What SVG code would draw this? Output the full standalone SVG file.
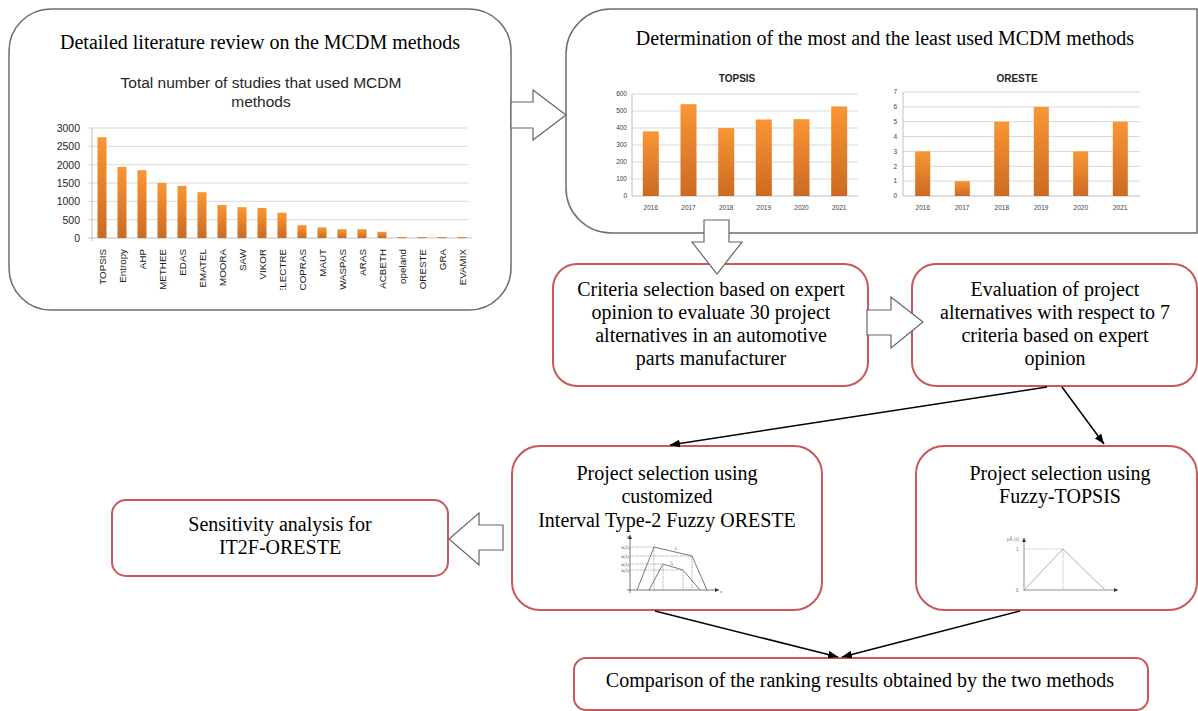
<svg xmlns="http://www.w3.org/2000/svg" width="1198" height="711" viewBox="0 0 1198 711">
<style>
.gbox{fill:#fff;stroke:#6d6d6d;stroke-width:1.5}
.rbox{fill:#fff;stroke:#c9585a;stroke-width:2}
.t{font-family:"Liberation Serif","Times New Roman",serif;font-size:20px;fill:#000;text-anchor:middle}
.ct{font-family:"Liberation Sans",Arial,sans-serif;fill:#262626}
.ax{font-family:"Liberation Sans",Arial,sans-serif;font-size:10.5px;fill:#262626;text-anchor:end}
.xl{font-family:"Liberation Sans",Arial,sans-serif;font-size:9.8px;fill:#1a1a1a;text-anchor:end}
.sax{font-family:"Liberation Sans",Arial,sans-serif;font-size:6.5px;fill:#404040;text-anchor:end}
.sxl{font-family:"Liberation Sans",Arial,sans-serif;font-size:6.5px;fill:#404040;text-anchor:middle}
.grid{stroke:#d9d9d9;stroke-width:1}
.axis{stroke:#bfbfbf;stroke-width:1}
.bar{fill:url(#og)}
.garrow{fill:#fff;stroke:#666;stroke-width:1.2;stroke-linejoin:miter}
.conn{stroke:#000;stroke-width:1.5;fill:none;marker-end:url(#ah)}
.fig{stroke:#555;stroke-width:0.8;fill:none}
.dot{stroke:#777;stroke-width:0.6;stroke-dasharray:1.5 1;fill:none}
.tiny{font-family:"Liberation Serif","Times New Roman",serif;font-size:4px;fill:#333}
</style>
<defs>
<linearGradient id="og" x1="0" y1="0" x2="0" y2="1">
<stop offset="0" stop-color="#f99634"/>
<stop offset="1" stop-color="#cc6a22"/>
</linearGradient>
<marker id="ah" viewBox="0 0 10 8" refX="10" refY="4" markerWidth="10" markerHeight="8" markerUnits="userSpaceOnUse" orient="auto">
<path d="M0,0 L10,4 L0,8 z" fill="#000"/>
</marker>
<marker id="sa" viewBox="0 0 6 6" refX="6" refY="3" markerWidth="4" markerHeight="4" markerUnits="userSpaceOnUse" orient="auto">
<path d="M0,0 L6,3 L0,6 z" fill="#333"/>
</marker>
<clipPath id="lblclip"><rect x="80" y="240" width="400" height="50"/></clipPath>
</defs>
<rect width="1198" height="711" fill="#fff"/>

<g id="node-literature">
<rect class="gbox" x="9" y="9" width="502" height="301" rx="42" ry="42"/>
<text class="t" x="260" y="49">Detailed literature review on the MCDM methods</text>
<g id="chart-total">
<text class="ct" x="261" y="88" font-size="15.5" text-anchor="middle">Total number of studies that used MCDM</text>
<text class="ct" x="261" y="107" font-size="15.5" text-anchor="middle">methods</text>
<line class="grid" x1="88" y1="128" x2="468" y2="128"/>
<line class="grid" x1="88" y1="146.3" x2="468" y2="146.3"/>
<line class="grid" x1="88" y1="164.7" x2="468" y2="164.7"/>
<line class="grid" x1="88" y1="183" x2="468" y2="183"/>
<line class="grid" x1="88" y1="201.3" x2="468" y2="201.3"/>
<line class="grid" x1="88" y1="219.7" x2="468" y2="219.7"/>
<line class="axis" x1="88" y1="238" x2="472" y2="238"/>
<line class="axis" x1="92" y1="128" x2="92" y2="241"/>
<text class="ax" x="80" y="132">3000</text>
<text class="ax" x="80" y="150">2500</text>
<text class="ax" x="80" y="168.5">2000</text>
<text class="ax" x="80" y="187">1500</text>
<text class="ax" x="80" y="205">1000</text>
<text class="ax" x="80" y="223.5">500</text>
<text class="ax" x="80" y="242">0</text>
<rect class="bar" x="97.5" y="137.2" width="9" height="100.8"/>
<rect class="bar" x="117.5" y="166.9" width="9" height="71.1"/>
<rect class="bar" x="137.5" y="170.2" width="9" height="67.8"/>
<rect class="bar" x="157.5" y="183" width="9" height="55"/>
<rect class="bar" x="177.5" y="185.9" width="9" height="52.1"/>
<rect class="bar" x="197.5" y="192.2" width="9" height="45.8"/>
<rect class="bar" x="217.5" y="205" width="9" height="33"/>
<rect class="bar" x="237.5" y="207.2" width="9" height="30.8"/>
<rect class="bar" x="257.5" y="207.9" width="9" height="30.1"/>
<rect class="bar" x="277.5" y="212.7" width="9" height="25.3"/>
<rect class="bar" x="297.5" y="225.2" width="9" height="12.8"/>
<rect class="bar" x="317.5" y="227.4" width="9" height="10.6"/>
<rect class="bar" x="337.5" y="229.2" width="9" height="8.8"/>
<rect class="bar" x="357.5" y="229.2" width="9" height="8.8"/>
<rect class="bar" x="377.5" y="231.8" width="9" height="6.2"/>
<rect class="bar" x="397.5" y="237" width="9" height="1"/>
<rect class="bar" x="417.5" y="237" width="9" height="1"/>
<rect class="bar" x="437.5" y="237" width="9" height="1"/>
<rect class="bar" x="457.5" y="237" width="9" height="1"/>
<g clip-path="url(#lblclip)">
<text class="xl" x="105.5" y="249" transform="rotate(-90 105.5 249)">TOPSIS</text>
<text class="xl" x="125.5" y="249" transform="rotate(-90 125.5 249)">Entropy</text>
<text class="xl" x="145.5" y="249" transform="rotate(-90 145.5 249)">AHP</text>
<text class="xl" x="165.5" y="249" transform="rotate(-90 165.5 249)">METHEE</text>
<text class="xl" x="185.5" y="249" transform="rotate(-90 185.5 249)">EDAS</text>
<text class="xl" x="205.5" y="249" transform="rotate(-90 205.5 249)">EMATEL</text>
<text class="xl" x="225.5" y="249" transform="rotate(-90 225.5 249)">MOORA</text>
<text class="xl" x="245.5" y="249" transform="rotate(-90 245.5 249)">SAW</text>
<text class="xl" x="265.5" y="249" transform="rotate(-90 265.5 249)">VIKOR</text>
<text class="xl" x="285.5" y="249" transform="rotate(-90 285.5 249)">ELECTRE</text>
<text class="xl" x="305.5" y="249" transform="rotate(-90 305.5 249)">COPRAS</text>
<text class="xl" x="325.5" y="249" transform="rotate(-90 325.5 249)">MAUT</text>
<text class="xl" x="345.5" y="249" transform="rotate(-90 345.5 249)">WASPAS</text>
<text class="xl" x="365.5" y="249" transform="rotate(-90 365.5 249)">ARAS</text>
<text class="xl" x="385.5" y="249" transform="rotate(-90 385.5 249)">ACBETH</text>
<text class="xl" x="405.5" y="249" transform="rotate(-90 405.5 249)">opeland</text>
<text class="xl" x="425.5" y="249" transform="rotate(-90 425.5 249)">ORESTE</text>
<text class="xl" x="445.5" y="249" transform="rotate(-90 445.5 249)">GRA</text>
<text class="xl" x="465.5" y="249" transform="rotate(-90 465.5 249)">EVAMIX</text>
</g>
</g>
</g>

<g id="node-determination">
<path class="gbox" d="M611,9 H1197 V233 H611 A45,45 0 0 1 566,188 V54 A45,45 0 0 1 611,9 Z"/>
<text class="t" x="885" y="45">Determination of the most and the least used MCDM methods</text>
<g id="chart-topsis">
<text class="ct" x="737" y="82" font-size="10" font-weight="bold" text-anchor="middle">TOPSIS</text>
<line class="grid" x1="632" y1="94" x2="858" y2="94"/>
<line class="grid" x1="632" y1="111" x2="858" y2="111"/>
<line class="grid" x1="632" y1="128" x2="858" y2="128"/>
<line class="grid" x1="632" y1="145" x2="858" y2="145"/>
<line class="grid" x1="632" y1="162" x2="858" y2="162"/>
<line class="grid" x1="632" y1="179" x2="858" y2="179"/>
<line class="axis" x1="632" y1="196" x2="858" y2="196"/>
<line class="axis" x1="632" y1="94" x2="632" y2="196"/>
<text class="sax" x="627" y="96">600</text>
<text class="sax" x="627" y="113">500</text>
<text class="sax" x="627" y="130">400</text>
<text class="sax" x="627" y="147">300</text>
<text class="sax" x="627" y="164">200</text>
<text class="sax" x="627" y="181">100</text>
<text class="sax" x="627" y="198">0</text>
<rect class="bar" x="642.8" y="131.4" width="16" height="64.6"/>
<rect class="bar" x="680.5" y="104.2" width="16" height="91.8"/>
<rect class="bar" x="718.2" y="128" width="16" height="68"/>
<rect class="bar" x="755.8" y="119.5" width="16" height="76.5"/>
<rect class="bar" x="793.5" y="119.2" width="16" height="76.8"/>
<rect class="bar" x="831.2" y="106.4" width="16" height="89.6"/>
<text class="sxl" x="650.8" y="210">2016</text>
<text class="sxl" x="688.5" y="210">2017</text>
<text class="sxl" x="726.2" y="210">2018</text>
<text class="sxl" x="763.8" y="210">2019</text>
<text class="sxl" x="801.5" y="210">2020</text>
<text class="sxl" x="839.2" y="210">2021</text>
</g>
<g id="chart-oreste">
<text class="ct" x="1017" y="82" font-size="10" font-weight="bold" text-anchor="middle">ORESTE</text>
<line class="grid" x1="903" y1="92" x2="1140" y2="92"/>
<line class="grid" x1="903" y1="106.9" x2="1140" y2="106.9"/>
<line class="grid" x1="903" y1="121.7" x2="1140" y2="121.7"/>
<line class="grid" x1="903" y1="136.6" x2="1140" y2="136.6"/>
<line class="grid" x1="903" y1="151.4" x2="1140" y2="151.4"/>
<line class="grid" x1="903" y1="166.3" x2="1140" y2="166.3"/>
<line class="grid" x1="903" y1="181.1" x2="1140" y2="181.1"/>
<line class="axis" x1="903" y1="196" x2="1140" y2="196"/>
<line class="axis" x1="903" y1="92" x2="903" y2="196"/>
<text class="sax" x="897" y="94">7</text>
<text class="sax" x="897" y="109">6</text>
<text class="sax" x="897" y="124">5</text>
<text class="sax" x="897" y="139">4</text>
<text class="sax" x="897" y="153.5">3</text>
<text class="sax" x="897" y="168.5">2</text>
<text class="sax" x="897" y="183">1</text>
<text class="sax" x="897" y="198">0</text>
<rect class="bar" x="915.2" y="151.4" width="15" height="44.6"/>
<rect class="bar" x="954.8" y="181.1" width="15" height="14.9"/>
<rect class="bar" x="994.2" y="121.7" width="15" height="74.3"/>
<rect class="bar" x="1033.8" y="106.9" width="15" height="89.1"/>
<rect class="bar" x="1073.2" y="151.4" width="15" height="44.6"/>
<rect class="bar" x="1112.8" y="121.7" width="15" height="74.3"/>
<text class="sxl" x="922.8" y="210">2016</text>
<text class="sxl" x="962.2" y="210">2017</text>
<text class="sxl" x="1001.8" y="210">2018</text>
<text class="sxl" x="1041.2" y="210">2019</text>
<text class="sxl" x="1080.8" y="210">2020</text>
<text class="sxl" x="1120.2" y="210">2021</text>
</g>
</g>

<g id="node-criteria">
<rect class="rbox" x="553" y="264" width="315" height="122" rx="24" ry="24"/>
<text class="t" x="711" y="296">Criteria selection based on expert</text>
<text class="t" x="711" y="319">opinion to evaluate 30 project</text>
<text class="t" x="711" y="342">alternatives in an automotive</text>
<text class="t" x="711" y="365">parts manufacturer</text>
</g>

<g id="node-evaluation">
<rect class="rbox" x="912" y="264" width="285" height="122" rx="24" ry="24"/>
<text class="t" x="1055" y="296">Evaluation of project</text>
<text class="t" x="1055" y="319">alternatives with respect to 7</text>
<text class="t" x="1055" y="342">criteria based on expert</text>
<text class="t" x="1055" y="365">opinion</text>
</g>

<g id="node-it2">
<rect class="rbox" x="512" y="446" width="310" height="164" rx="28" ry="28"/>
<text class="t" x="667" y="480">Project selection using</text>
<text class="t" x="667" y="503">customized</text>
<text class="t" x="667" y="527">Interval Type-2 Fuzzy ORESTE</text>
<g id="it2-figure">
<line class="fig" x1="630" y1="593" x2="630" y2="535" marker-end="url(#sa)"/>
<line class="fig" x1="627" y1="590" x2="719" y2="590" marker-end="url(#sa)"/>
<polyline class="fig" points="637,590 654,547 692,556 707,590"/>
<polyline class="fig" points="649,590 663,564 683,570 700,590"/>
<polyline class="dot" points="630,547 654,547 654,590"/>
<polyline class="dot" points="630,556 692,556 692,590"/>
<polyline class="dot" points="630,564 663,564 663,590"/>
<polyline class="dot" points="630,570 683,570 683,590"/>
<text class="tiny" x="629" y="548.5" text-anchor="end">h(Ã)</text>
<text class="tiny" x="629" y="557.5" text-anchor="end">h(Ã)</text>
<text class="tiny" x="629" y="565.5" text-anchor="end">h(Ã)</text>
<text class="tiny" x="629" y="571.5" text-anchor="end">h(Ã)</text>
<text class="tiny" x="674" y="550">Ã</text>
<text class="tiny" x="670" y="565">Ã</text>
<text class="tiny" x="627" y="538">μ</text>
<text class="tiny" x="720" y="593">x</text>
</g>
</g>

<g id="node-fuzzy-topsis">
<rect class="rbox" x="916" y="446" width="281" height="164" rx="28" ry="28"/>
<text class="t" x="1060" y="480">Project selection using</text>
<text class="t" x="1060" y="503">Fuzzy-TOPSIS</text>
<g id="ft-figure">
<line x1="1024" y1="591" x2="1024" y2="538" stroke="#777" stroke-width="0.8" marker-end="url(#sa)"/>
<line x1="1024" y1="590" x2="1118" y2="590" stroke="#777" stroke-width="0.8" marker-end="url(#sa)"/>
<polyline points="1024,590 1063,549 1105,590" fill="none" stroke="#999" stroke-width="0.8"/>
<polyline points="1024,549 1063,549 1063,590" fill="none" stroke="#999" stroke-width="0.6" stroke-dasharray="1.5 1"/>
<text x="1007" y="541" font-family="Liberation Sans, Arial, sans-serif" font-size="4.5" fill="#777">μÃ (x)</text>
<text x="1016" y="551" font-family="Liberation Sans, Arial, sans-serif" font-size="4.5" fill="#777">1</text>
<text x="1016" y="592" font-family="Liberation Sans, Arial, sans-serif" font-size="4.5" fill="#777">0</text>
</g>
</g>

<g id="node-sensitivity">
<rect class="rbox" x="112" y="500" width="336" height="76" rx="14" ry="14"/>
<text class="t" x="280" y="531">Sensitivity analysis for</text>
<text class="t" x="280" y="554">IT2F-ORESTE</text>
</g>

<g id="node-comparison">
<rect class="rbox" x="574" y="658" width="574" height="52" rx="12" ry="12"/>
<text class="t" x="860" y="687">Comparison of the ranking results obtained by the two methods</text>
</g>

<g id="connectors">
<polygon class="garrow" points="511,102 533,102 533,90 566,115 533,140 533,128 511,128"/>
<polygon class="garrow" points="704,220 729,220 729,242 742,242 717,274 692,242 704,242"/>
<polygon class="garrow" points="867,310 891,310 891,297 923,322 891,348 891,335 867,335"/>
<polygon class="garrow" points="503,525 479,525 479,513 449,539 479,565 479,550 503,550"/>
<line class="conn" x1="1047" y1="387" x2="670" y2="445"/>
<line class="conn" x1="1062" y1="387" x2="1104" y2="444"/>
<line class="conn" x1="655" y1="611" x2="838" y2="657"/>
<line class="conn" x1="1020" y1="611" x2="842" y2="657"/>
</g>
</svg>
